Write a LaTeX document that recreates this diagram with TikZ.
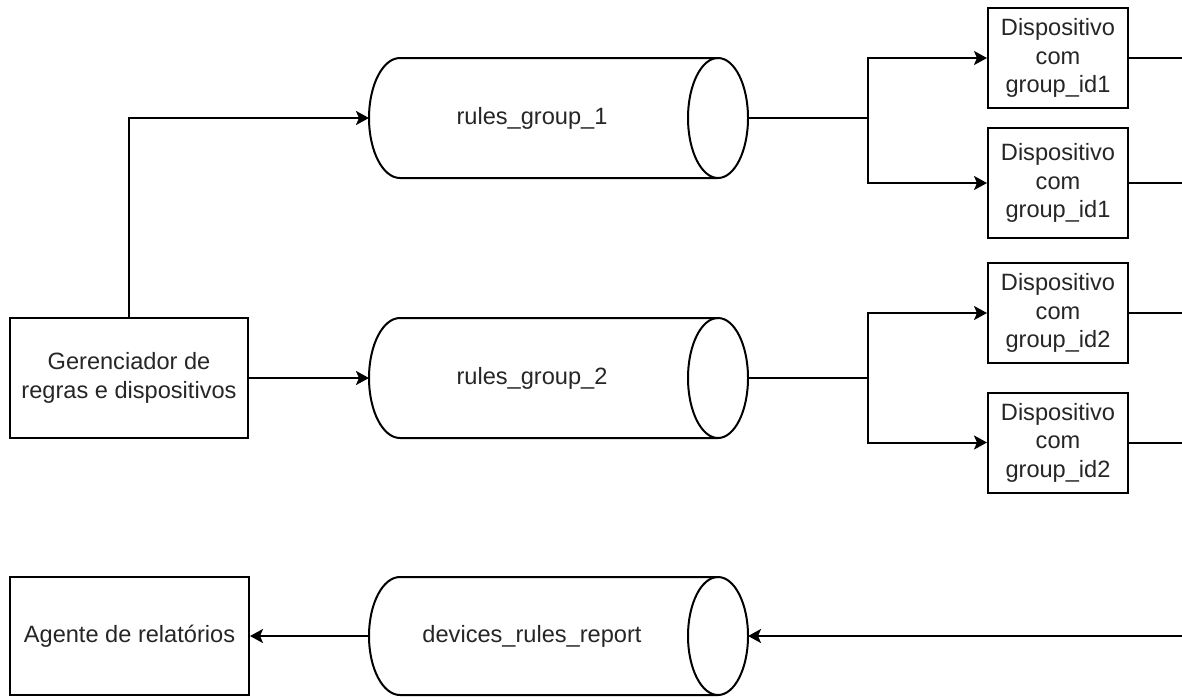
\documentclass[tikz,border=0pt]{standalone}
\usepackage{fontspec}
\setmainfont{Liberation Sans}
\usetikzlibrary{arrows.meta}
\tikzset{
  line/.style={line width=1pt, black},
  arrowline/.style={line, -{Stealth[length=6.5pt,width=7pt,inset=1.5pt]}},
  box/.style={draw, line width=1pt, fill=white, align=center, inner sep=0pt,
    text=black!85, font=\fontsize{11.8}{14.2}\selectfont},
  devbox/.style={box, minimum width=70pt},
  lbl/.style={text=black!85, font=\fontsize{11.8}{14.2}\selectfont},
}
% horizontal cylinder (queue): #1 name, #2 centre y, #3 half height, #4 label
\newcommand\queuecyl[4]{%
  \begin{scope}[shift={(0,#2)}]
    \draw[line] (400,#3) -- (718,#3)
      arc[start angle=90,end angle=-90,x radius=15pt,y radius=#3*0.5pt]
      -- (400,-#3)
      arc[start angle=270,end angle=90,x radius=15.5pt,y radius=#3*0.5pt] -- cycle;
    \draw[line] (718,#3) arc[start angle=90,end angle=270,x radius=15pt,y radius=#3*0.5pt];
    \node[lbl] (#1) at (532,0) {#4};
    \coordinate (#1w) at (369,0);
    \coordinate (#1e) at (748,0);
  \end{scope}}
\begin{document}
\begin{tikzpicture}[x=0.5pt,y=0.5pt]
  \fill[white] (0,0) rectangle (1182,-697);
  \useasboundingbox (0,0) rectangle (1182,-697);

  % queues
  \queuecyl{q1}{-118}{60}{rules\_group\_1}
  \queuecyl{q2}{-378}{60}{rules\_group\_2}
  \queuecyl{q3}{-636}{59}{devices\_rules\_report}

  % manager and reporting agent
  \node[box, minimum width=119pt, minimum height=60pt] (ger) at (129,-378)
    {Gerenciador de\\regras e dispositivos};
  \node[box, minimum width=119.5pt, minimum height=59pt] (agt) at (129.5,-636)
    {Agente de relatórios};

  % devices
  \node[devbox, minimum height=50pt] (d1) at (1058,-58) {Dispositivo\\com\\group\_id1};
  \node[devbox, minimum height=55pt] (d2) at (1058,-183) {Dispositivo\\com\\group\_id1};
  \node[devbox, minimum height=50pt] (d3) at (1058,-313) {Dispositivo\\com\\group\_id2};
  \node[devbox, minimum height=50pt] (d4) at (1058,-442.5) {Dispositivo\\com\\group\_id2};

  % branch points and free ends at the right margin
  \coordinate (b1) at (868,-118);
  \coordinate (b2) at (868,-378);
  \coordinate (o1) at (1182,-58);
  \coordinate (o2) at (1182,-183);
  \coordinate (o3) at (1182,-313);
  \coordinate (o4) at (1182,-442.5);
  \coordinate (rin) at (1182,-636);

  % manager publishes rules
  \draw[arrowline] (ger.north) |- (q1w);
  \draw[arrowline] (ger.east) -- (q2w);

  % queues fan out to devices
  \draw[line] (q1e) -- (b1);
  \draw[arrowline] (b1) |- (d1.west);
  \draw[arrowline] (b1) |- (d2.west);
  \draw[line] (q2e) -- (b2);
  \draw[arrowline] (b2) |- (d3.west);
  \draw[arrowline] (b2) |- (d4.west);

  % device outputs
  \draw[line] (d1.east) -- (o1);
  \draw[line] (d2.east) -- (o2);
  \draw[line] (d3.east) -- (o3);
  \draw[line] (d4.east) -- (o4);

  % reports
  \draw[arrowline] (rin) -- (q3e);
  \draw[arrowline] (q3w) -- (agt.east);
\end{tikzpicture}
\end{document}
